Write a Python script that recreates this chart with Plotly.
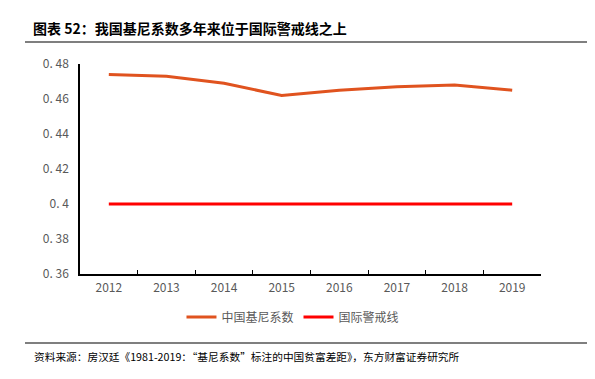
import plotly.graph_objects as go

years = ["2012", "2013", "2014", "2015", "2016", "2017", "2018", "2019"]
gini = [0.474, 0.473, 0.469, 0.462, 0.465, 0.467, 0.468, 0.465]
warning = [0.4, 0.4, 0.4, 0.4, 0.4, 0.4, 0.4, 0.4]
ytick_vals = [0.36, 0.38, 0.40, 0.42, 0.44, 0.46, 0.48]
ytick_text = ["0. 36", "0. 38", "0. 4", "0. 42", "0. 44", "0. 46", "0. 48"]

CJK = "Noto Sans CJK SC"

fig = go.Figure()
fig.add_trace(go.Scatter(x=years, y=gini, mode="lines", name="中国基尼系数",
                         line=dict(color="#E0531F", width=3)))
fig.add_trace(go.Scatter(x=years, y=warning, mode="lines", name="国际警戒线",
                         line=dict(color="#FF0000", width=3)))

fig.update_layout(
    width=587, height=371,
    margin=dict(l=72, r=54, t=56, b=105),
    paper_bgcolor="white", plot_bgcolor="white",
    font=dict(family=CJK, size=12, color="#595959"),
    showlegend=True,
    legend=dict(orientation="h", x=0.462, xanchor="center", y=-0.205, yanchor="middle",
                font=dict(family=CJK, size=12, color="#595959"),
                tracegroupgap=0),
    xaxis=dict(type="category", range=[-0.5, 7.5], showline=True, linecolor="black",
               linewidth=1.5, ticks="inside", ticklen=4, tickcolor="black",
               tickson="boundaries", showgrid=False, zeroline=False, automargin=False,
               tickfont=dict(size=12, color="#595959"), ticklabelstandoff=2),
    yaxis=dict(range=[0.36, 0.48], tickvals=ytick_vals, ticktext=ytick_text,
               showline=True, linecolor="black", linewidth=1.5, ticks="",
               showgrid=False, zeroline=False, automargin=False,
               ticklabelstandoff=7, tickfont=dict(size=12, color="#595959")),
)

fig.add_annotation(text="<b>图表 52：我国基尼系数多年来位于国际警戒线之上</b>",
                   xref="paper", yref="paper", x=-0.106, y=1.1714,
                   xanchor="left", yanchor="middle", showarrow=False,
                   font=dict(family=CJK, size=14, color="black"))
fig.add_annotation(text="资料来源：房汉廷《1981-2019：“基尼系数”标注的中国贫富差距》，东方财富证券研究所",
                   xref="paper", yref="paper", x=-0.104, y=-0.3905,
                   xanchor="left", yanchor="middle", showarrow=False,
                   font=dict(family=CJK, size=10.7, color="black"))
fig.add_shape(type="line", xref="paper", yref="paper", x0=-0.1193, x1=1.117,
              y0=1.1048, y1=1.1048, line=dict(color="#555555", width=1.5))
fig.add_shape(type="line", xref="paper", yref="paper", x0=-0.1193, x1=1.117,
              y0=-0.3286, y1=-0.3286, line=dict(color="#555555", width=1.5))

fig.write_html("out.html")
